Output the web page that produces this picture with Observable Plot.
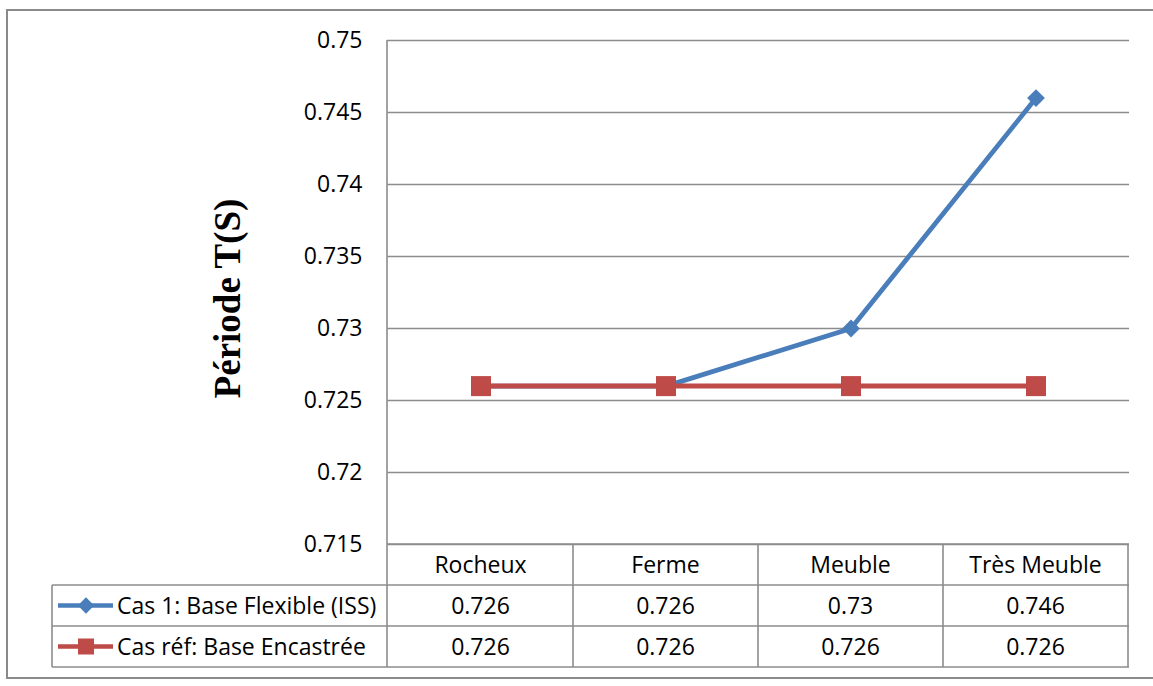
<!DOCTYPE html>
<html>
<head>
<meta charset="utf-8">
<script src="https://cdn.jsdelivr.net/npm/d3@7"></script>
<script src="https://cdn.jsdelivr.net/npm/@observablehq/plot@0.6"></script>
<style>
  html, body { margin: 0; padding: 0; background: #ffffff; }
  #wrap { position: relative; width: 1153px; height: 686px; overflow: hidden; }
  #border { position: absolute; left: 6px; top: 9px; width: 1160px; height: 670px; border: 2px solid #8a8a8a; box-sizing: border-box; }
  #chart { position: absolute; left: 0; top: 0; }
  #chart svg { background: none; }
</style>
</head>
<body>
<div id="wrap"><div id="border"></div><div id="chart"></div></div>
<script>
// ---- data ----
const categories = ["Rocheux", "Ferme", "Meuble", "Très Meuble"];
const seriesNames = ["Cas 1: Base Flexible (ISS)", "Cas réf: Base Encastrée"];
const flexibleValues = [0.726, 0.726, 0.73, 0.746];
const encastreeValues = [0.726, 0.726, 0.726, 0.726];
const yTicks = [0.715, 0.72, 0.725, 0.73, 0.735, 0.74, 0.745, 0.75];
const yLabel = "Période T(S)";
const seriesColors = ["#4a7ebb", "#be4b48"];
const seriesSymbols = ["diamond2", "square"];

// ---- table built from arrays ----
const allSeries = [flexibleValues, encastreeValues];
const rows = [];
allSeries.forEach((vals, s) => {
  categories.forEach((c, i) => rows.push({series: seriesNames[s], s, cat: c, value: vals[i]}));
});
const fmt = v => String(+v.toFixed(3));

const FONT = "'Open Sans', 'Noto Sans', sans-serif";
const GRID = "#8c8c8c";
const ROW_H = 41;

// custom table mark (grid lines, header, values, legend keys)
function tableMark(index, scales, values, dimensions) {
  const x = scales.x;
  const bw = x.bandwidth();
  const top = dimensions.height - dimensions.marginBottom; // frame bottom
  const left = dimensions.marginLeft;
  const right = dimensions.width - dimensions.marginRight;
  const legendLeft = 52;
  const g = d3.create("svg:g");
  const line = (x1, y1, x2, y2) => g.append("line")
    .attr("x1", x1).attr("y1", y1).attr("x2", x2).attr("y2", y2)
    .attr("stroke", GRID).attr("stroke-width", 1.6);
  const bottom = top + ROW_H * 3;
  // horizontal lines
  line(left, top, right, top);
  for (let r = 1; r <= 3; r++) line(legendLeft, top + ROW_H * r, right, top + ROW_H * r);
  // vertical lines
  line(left, dimensions.marginTop, left, bottom);
  categories.forEach(c => line(x(c) + bw, top, x(c) + bw, bottom));
  line(legendLeft, top + ROW_H, legendLeft, bottom);
  // header text
  categories.forEach(c => g.append("text")
    .attr("x", x(c) + bw / 2).attr("y", top + ROW_H / 2).attr("dy", "0.35em")
    .attr("text-anchor", "middle").attr("font-size", 23).attr("font-family", FONT)
    .attr("fill", "#000").text(c));
  // value rows
  allSeries.forEach((vals, s) => {
    const cy = top + ROW_H * (s + 1) + ROW_H / 2;
    categories.forEach((c, i) => g.append("text")
      .attr("x", x(c) + bw / 2).attr("y", cy).attr("dy", "0.35em")
      .attr("text-anchor", "middle").attr("font-size", 23).attr("font-family", FONT)
      .attr("fill", "#000").text(fmt(vals[i])));
    // legend key
    g.append("line").attr("x1", legendLeft + 6).attr("x2", legendLeft + 61)
      .attr("y1", cy).attr("y2", cy).attr("stroke", seriesColors[s]).attr("stroke-width", 4.5);
    const sym = s === 0 ? d3.symbolDiamond2 : d3.symbolSquare;
    g.append("path").attr("d", d3.symbol(sym, s === 0 ? 170 : 256)())
      .attr("transform", `translate(${legendLeft + 34},${cy})`)
      .attr("fill", seriesColors[s]);
    g.append("text").attr("x", legendLeft + 65).attr("y", cy).attr("dy", "0.35em")
      .attr("text-anchor", "start").attr("font-size", 23).attr("font-family", FONT)
      .attr("fill", "#000").text(seriesNames[s]);
  });
  return g.node();
}

const chart = Plot.plot({
  width: 1153,
  height: 686,
  marginLeft: 387,
  marginRight: 24,
  marginTop: 40,
  marginBottom: 142,
  style: {fontFamily: FONT, background: "none", color: "#000", overflow: "visible"},
  x: {type: "band", domain: categories, padding: 0, axis: null},
  y: {domain: [0.715, 0.75], axis: null},
  color: {domain: seriesNames, range: seriesColors},
  symbol: {domain: seriesNames, range: seriesSymbols},
  marks: [
    Plot.gridY(yTicks, {stroke: GRID, strokeOpacity: 1, strokeWidth: 1.6}),
    Plot.axisY({ticks: yTicks, tickSize: 0, tickPadding: 25, tickFormat: fmt, fontSize: 23, fill: "#000", label: null}),
    Plot.text([yLabel], {frameAnchor: "left", textAnchor: "middle", lineAnchor: "middle", dx: -159, dy: 6, rotate: -90, text: d => d,
      fontSize: 37, fontWeight: "bold", fontFamily: "'Liberation Serif', 'Times New Roman', serif", fill: "#000"}),
    Plot.line(rows.filter(d => d.s === 0), {x: "cat", y: "value", stroke: "series", strokeWidth: 4.8}),
    Plot.dot(rows.filter(d => d.s === 0), {x: "cat", y: "value", fill: "series", symbol: "series", r: 8}),
    Plot.line(rows.filter(d => d.s === 1), {x: "cat", y: "value", stroke: "series", strokeWidth: 5}),
    Plot.dot(rows.filter(d => d.s === 1), {x: "cat", y: "value", fill: "series", symbol: "series", r: 11.3}),
    tableMark
  ]
});
document.getElementById("chart").appendChild(chart);
</script>
</body>
</html>
